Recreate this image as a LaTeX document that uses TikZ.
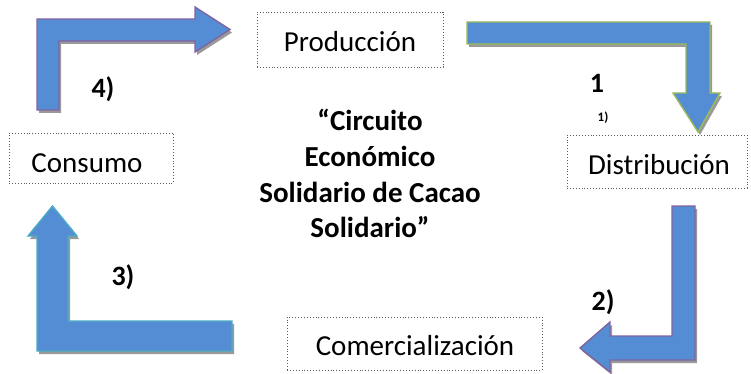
\documentclass[tikz,border=0pt]{standalone}
\usepackage{fontspec}
\setmainfont{Carlito}
\definecolor{arrfill}{RGB}{84,141,212}
\definecolor{purp}{RGB}{128,100,162}
\definecolor{grn}{RGB}{155,187,89}
\definecolor{teal}{RGB}{75,172,198}
\definecolor{boxline}{RGB}{90,90,90}
\begin{document}
\begin{tikzpicture}[x=1pt,y=-1pt,
  stagebox/.style={draw=boxline,dotted,line width=0.9pt,minimum height=#1,inner sep=0pt},
  stagetext/.style={font=\fontsize{29}{35}\selectfont,anchor=base,inner sep=0pt},
  titletext/.style={font=\fontsize{29}{35}\selectfont\bfseries,anchor=base,inner sep=0pt},
  numtext/.style={font=\fontsize{28}{34}\selectfont\bfseries,anchor=base,inner sep=0pt},
  bigarrow/.style={fill=arrfill,line width=1.4pt,line join=miter},
  shadowed/.style={fill=black!40}]
\useasboundingbox (0,0) rectangle (751,374);

% boxes
\node[stagebox=55pt,minimum width=186pt] (prodbox) at (350,39.5) {};
\node[stagebox=50pt,minimum width=164pt] (consbox) at (91,158) {};
\node[stagebox=53pt,minimum width=180pt] (distbox) at (657,161.5) {};
\node[stagebox=53pt,minimum width=255pt] (comebox) at (414.5,343.5) {};

\node[stagetext] (prod) at (350,52) {Producción};
\node[stagetext] (cons) at (87,172) {Consumo};
\node[stagetext] (dist) at (659,174) {Distribución};
\node[stagetext] (come) at (415,355) {Comercialización};

% title
\node[titletext] (t1) at (370,131) {“Circuito};
\node[titletext] (t2) at (370,166) {Económico};
\node[titletext] (t3) at (370,202) {Solidario de Cacao};
\node[titletext] (t4) at (370,237) {Solidario”};

% arrow 4 (Consumo -> Producción)
\fill[shadowed,shift={(2,3)}] (37,110) -- (37,19) -- (195,19) -- (195,7) -- (230,29.5) -- (195,52) -- (195,41) -- (59,41) -- (59,110) -- cycle;
\filldraw[bigarrow,draw=purp] (37,110) -- (37,19) -- (195,19) -- (195,7) -- (230,29.5) -- (195,52) -- (195,41) -- (59,41) -- (59,110) -- cycle;

% arrow 1 (Producción -> Distribución)
\fill[shadowed,shift={(2,3)}] (467,22) -- (710,22) -- (710,93) -- (720,93) -- (698,132) -- (673,93) -- (686,93) -- (686,44) -- (467,44) -- cycle;
\filldraw[bigarrow,draw=grn] (467,22) -- (710,22) -- (710,93) -- (720,93) -- (698,132) -- (673,93) -- (686,93) -- (686,44) -- (467,44) -- cycle;

% arrow 2 (Distribución -> Comercialización)
\fill[shadowed,shift={(2,3)}] (672,206) -- (695,206) -- (695,360) -- (610,360) -- (610,372) -- (580,348) -- (610,322) -- (610,336) -- (672,336) -- cycle;
\filldraw[bigarrow,draw=purp] (672,206) -- (695,206) -- (695,360) -- (610,360) -- (610,372) -- (580,348) -- (610,322) -- (610,336) -- (672,336) -- cycle;

% arrow 3 (Comercialización -> Consumo)
\fill[shadowed,shift={(2,3)}] (37,351) -- (37,236) -- (28,236) -- (52.5,206) -- (77,236) -- (68,236) -- (68,321) -- (232,321) -- (232,351) -- cycle;
\filldraw[bigarrow,draw=teal] (37,351) -- (37,236) -- (28,236) -- (52.5,206) -- (77,236) -- (68,236) -- (68,321) -- (232,321) -- (232,351) -- cycle;

% step labels
\node[numtext] (n4) at (103,98) {4)};
\node[numtext] (n1) at (597,93) {1};
\node[font=\fontsize{13}{15}\selectfont\bfseries,anchor=base,inner sep=0pt] (n1b) at (603,122) {1)};
\node[numtext] (n2) at (603,310) {2)};
\node[numtext] (n3) at (123,285) {3)};
\end{tikzpicture}
\end{document}
